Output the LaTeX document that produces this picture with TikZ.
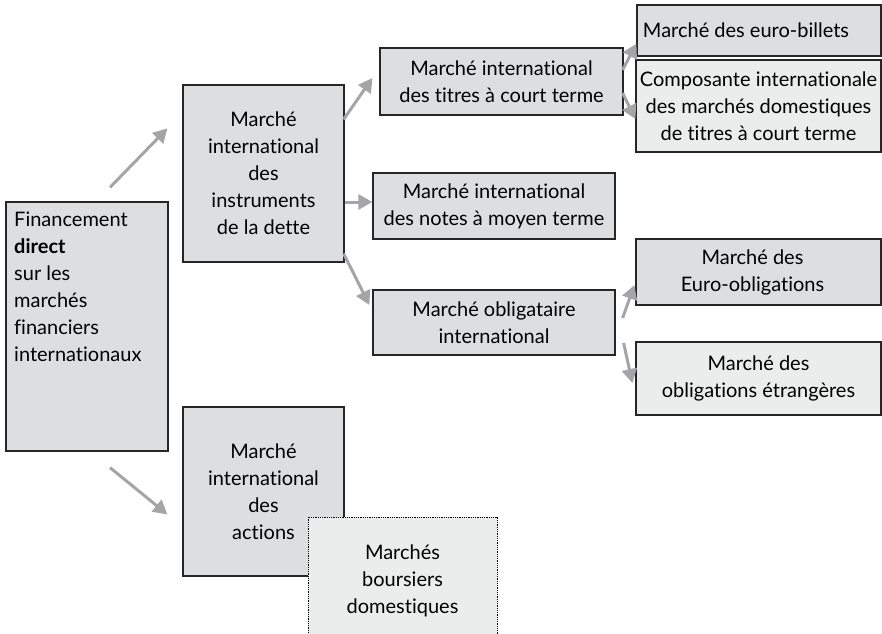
\documentclass[tikz,border=0pt]{standalone}
\usepackage{fontspec}
\setmainfont{Lato}[Ligatures={NoCommon,NoContextual}]
\usepackage{xcolor}
\usepackage{tikz}
\usetikzlibrary{arrows.meta,positioning,calc}

\definecolor{boxdark}{RGB}{221,222,224}
\definecolor{boxlight}{RGB}{235,236,236}
\definecolor{linkgray}{RGB}{165,165,168}

\begin{document}
\begin{tikzpicture}[
    x=1pt, y=-1pt,
    font=\fontsize{20}{27}\selectfont,
    market/.style={rectangle, draw=black!85, line width=1.2pt, fill=boxdark, text centered, inner sep=0pt},
    marketlight/.style={market, fill=boxlight},
    link/.style={draw=linkgray, line width=3pt, -{Triangle[length=14pt, width=15pt]}}
]
\useasboundingbox (0,0) rectangle (882,633);

\begin{scope}
    % Root box, text set at the top left
    \node[market, minimum width=162, minimum height=249, name=fin] at (87,326.5) {};
    \node[anchor=north west, align=left, inner sep=0pt] (fintxt) at (14,212)
        {Financement\\ \textbf{direct}\\ sur les\\ marchés\\ financiers\\ internationaux};

    % Second level
    \node[market, minimum width=161, minimum height=177, align=center, name=dette] at (263.5,173.5)
        {Marché\\ international\\ des\\ instruments\\ de la dette};
    \node[market, minimum width=161, minimum height=169, align=center, name=actions] at (263.5,491.5)
        {\raisebox{-14pt}{\parbox{150pt}{\centering Marché\\ international\\ des\\ actions}}};

    % Debt markets
    \node[market, minimum width=243, minimum height=67, align=center, name=titres] at (501.5,81.5)
        {Marché international\\ des titres à court terme};
    \node[market, minimum width=242, minimum height=66, align=center, name=notes] at (494,206)
        {Marché international\\ des notes à moyen terme};
    \node[market, minimum width=242, minimum height=65, align=center, name=oblig] at (494,322.5)
        {Marché obligataire\\ international};

    % Third level
    \node[market, minimum width=244, minimum height=51, name=billets] at (759,30.5)
        {\hspace*{-26pt}Marché des euro-billets};
    \node[marketlight, minimum width=245, minimum height=92, align=center, name=compos] at (758.5,106)
        {Composante internationale\\ des marchés domestiques\\ de titres à court terme};
    \node[market, minimum width=245, minimum height=66, align=center, name=euro] at (758.5,272)
        {\hspace*{-12pt}Marché des\\ \hspace*{-12pt}Euro-obligations};
    \node[marketlight, minimum width=245, minimum height=73, align=center, name=etr] at (758.5,378.5)
        {Marché des\\ obligations étrangères};

    % Dotted box over the equity market
    \node[marketlight, draw=black, line width=0.8pt, densely dotted, minimum width=189, minimum height=128, align=center, name=bourse] at (402.5,581)
        {Marchés\\ boursiers\\ domestiques};
\end{scope}

% Connectors
\path ([shift={(23,-14)}]fin.north) edge[link] ([shift={(-15,44)}]dette.north west)
      ([shift={(23,16)}]fin.south) edge[link] ([shift={(-15,108)}]actions.north west)
      ([shift={(-1,35)}]dette.north east) edge[link] ([shift={(-7,-3.5)}]titres.west)
      ([shift={(0,-4)}]notes.west -| dette.east) edge[link] ([shift={(0,-4)}]notes.west)
      ([shift={(-1,-9)}]dette.south east) edge[link] ([shift={(-3,-17.5)}]oblig.west)
      ([shift={(-1,-11.5)}]titres.east) edge[link] ([shift={(0,-13)}]billets.south west)
      ([shift={(-1,11.5)}]titres.east) edge[link] ([shift={(0,13)}]compos.west)
      ([shift={(7,-4.5)}]oblig.east) edge[link] ([shift={(-1,13)}]euro.west)
      ([shift={(8,20.5)}]oblig.east) edge[link] ([shift={(-3,4.5)}]etr.west);
\end{tikzpicture}
\end{document}
